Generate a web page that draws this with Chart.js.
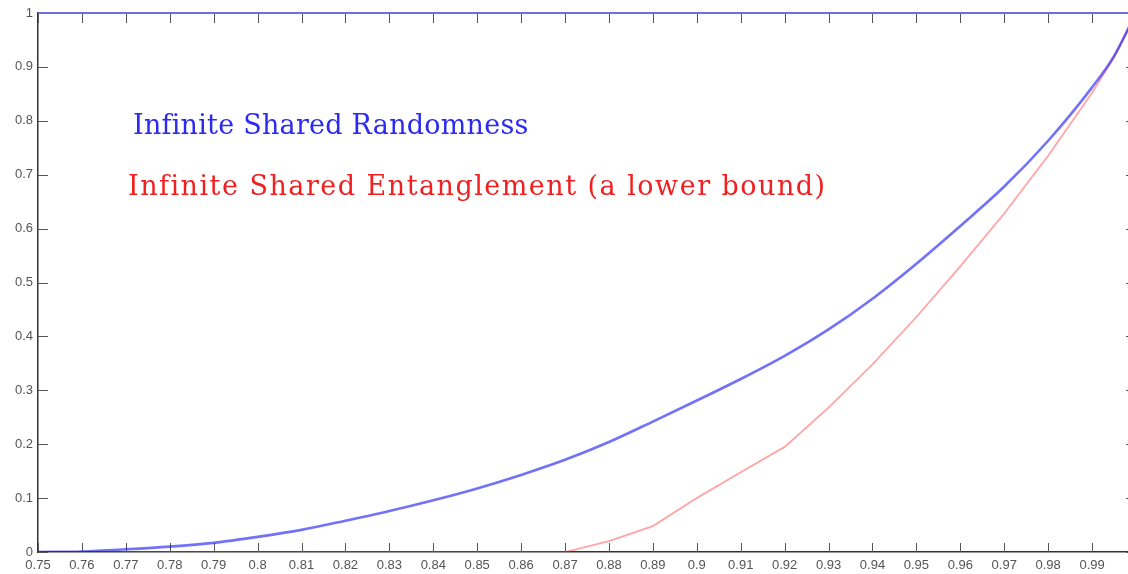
<!DOCTYPE html>
<html>
<head>
<meta charset="utf-8">
<script src="https://cdn.jsdelivr.net/npm/chart.js@4/dist/chart.umd.min.js"></script>
<style>
  html, body { margin: 0; padding: 0; background: #fff; overflow: hidden; }
  #wrap { width: 1150px; height: 574px; position: relative; }
</style>
</head>
<body>
<div id="wrap"><canvas id="chart"></canvas></div>
<script>
// x values (the right end, 1.0, falls just past the visible window as in the original)
const xValues = [0.75, 0.76, 0.77, 0.78, 0.79, 0.80, 0.81, 0.82, 0.83, 0.84, 0.85, 0.86, 0.87,
  0.88, 0.89, 0.90, 0.91, 0.92, 0.93, 0.94, 0.95, 0.96, 0.97, 0.98, 0.99, 0.995, 1.0];

const randomness = [0, 0.001, 0.005, 0.01, 0.017, 0.028, 0.041, 0.058, 0.076, 0.096, 0.118, 0.143, 0.171,
  0.204, 0.242, 0.281, 0.321, 0.364, 0.413, 0.47, 0.535, 0.605, 0.678, 0.763, 0.862, 0.92, 1.0];

const entanglement = [0, 0, 0, 0, 0, 0, 0, 0, 0, 0, 0, 0, 0,
  0.02, 0.048, 0.1, 0.148, 0.195, 0.268, 0.348, 0.436, 0.53, 0.628, 0.735, 0.852, 0.918, 1.0];

const labelRandomness = "Infinite Shared Randomness";
const labelEntanglement = "Infinite Shared Entanglement (a lower bound)";

function toPoints(values)
{
  return values.map((v, i) => ({x: xValues[i], y: v}));
}

function fmt(v)
{
  return String(Number(v.toFixed(2)));
}

// writes a line of text spread to a given width
function spreadText(ctx, text, x, y, width)
{
  ctx.letterSpacing = "0px";
  const w = ctx.measureText(text).width;
  const extra = (width - w) / text.length;
  ctx.letterSpacing = extra + "px";
  ctx.fillText(text, x, y);
  ctx.letterSpacing = "0px";
}

// MATLAB style box: inward tick marks on all four sides
const boxTicks = {
  id: "boxTicks",
  beforeDatasetsDraw(chart)
  {
    const {ctx, chartArea: a, scales: {x, y}} = chart;
    ctx.save();
    ctx.lineWidth = 1;
    ctx.strokeStyle = "#555";
    ctx.beginPath();
    x.ticks.forEach(t => {
      const px = Math.round(x.getPixelForValue(t.value)) + 0.5;
      ctx.moveTo(px, a.bottom);
      ctx.lineTo(px, a.bottom - 9);
      ctx.moveTo(px, a.top);
      ctx.lineTo(px, a.top + 10);
    });
    y.ticks.forEach(t => {
      const py = Math.round(y.getPixelForValue(t.value)) + 0.5;
      ctx.moveTo(a.left, py);
      ctx.lineTo(a.left + 10, py);
      ctx.moveTo(a.right, py);
      ctx.lineTo(a.right - 10, py);
    });
    ctx.stroke();

    ctx.lineWidth = 2;
    ctx.strokeStyle = "#6f6fd8";
    ctx.beginPath();
    ctx.moveTo(a.left, a.top);
    ctx.lineTo(a.right, a.top);
    ctx.stroke();
    ctx.restore();
  },
  afterDraw(chart)
  {
    const ctx = chart.ctx;
    ctx.save();
    ctx.font = "27px 'DejaVu Serif'";
    ctx.textBaseline = "alphabetic";
    ctx.fillStyle = "#2a2af2";
    spreadText(ctx, labelRandomness, 133, 134, 395);
    ctx.fillStyle = "#f02020";
    spreadText(ctx, labelEntanglement, 128, 195, 698);
    ctx.restore();
  }
};

const tickFont = {family: "'Liberation Sans', Arial, sans-serif", size: 13};

new Chart(document.getElementById("chart"), {
  type: "line",
  data: {
    datasets: [
      {
        label: labelRandomness,
        data: toPoints(randomness),
        borderColor: "rgba(20, 20, 245, 0.6)",
        borderWidth: 2.6,
        pointRadius: 0,
        cubicInterpolationMode: "monotone",
      },
      {
        label: labelEntanglement,
        data: toPoints(entanglement),
        borderColor: "rgba(255, 40, 40, 0.42)",
        borderWidth: 1.8,
        pointRadius: 0,
        tension: 0,
      },
    ],
  },
  options: {
    responsive: true,
    maintainAspectRatio: false,
    animation: false,
    devicePixelRatio: 1,
    layout: {padding: {left: 0, top: 13, right: 14, bottom: 0}},
    plugins: {
      legend: {display: false},
      tooltip: {enabled: false},
    },
    scales: {
      x: {
        type: "linear",
        min: 0.75,
        max: 1.0,
        afterFit: scale => { scale.height = 22; },
        grid: {display: false, drawTicks: false},
        border: {display: true, color: "#333", width: 1.5},
        ticks: {
          stepSize: 0.01,
          padding: 6,
          maxRotation: 0,
          autoSkip: false,
          color: "#555",
          font: tickFont,
          callback: v => fmt(v),
        },
      },
      y: {
        min: 0,
        max: 1,
        afterFit: scale => { scale.width = 38; },
        grid: {display: false, drawTicks: false},
        border: {display: true, color: "#333", width: 1.5},
        ticks: {
          stepSize: 0.1,
          padding: 5,
          color: "#555",
          font: tickFont,
          callback: v => fmt(v),
        },
      },
    },
  },
  plugins: [boxTicks],
});
</script>
</body>
</html>
